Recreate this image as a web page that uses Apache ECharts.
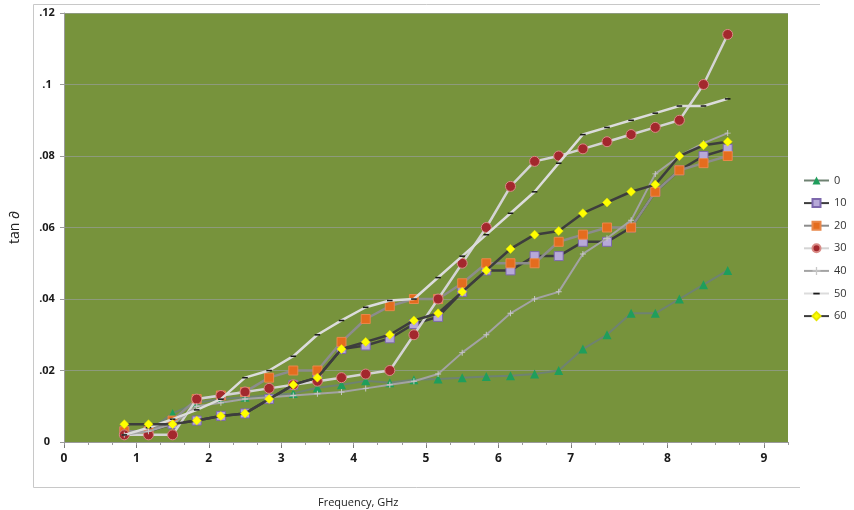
<!DOCTYPE html>
<html>
<head>
<meta charset="utf-8">
<style>
  html, body { margin: 0; padding: 0; background: #ffffff; }
  #chart { width: 854px; height: 510px; }
</style>
<script src="https://cdn.jsdelivr.net/npm/echarts@6/dist/echarts.min.js"></script>
</head>
<body>
<div id="chart"></div>
<script>
// Frequency positions of the measurement points (axis units)
const freq = [0.833, 1.167, 1.5, 1.833, 2.167, 2.5, 2.833, 3.167, 3.5, 3.833,
              4.167, 4.5, 4.833, 5.167, 5.5, 5.833, 6.167, 6.5, 6.833, 7.167,
              7.5, 7.833, 8.167, 8.5, 8.833, 9.167];

// Loss tangent for each sample label
const s0  = [0.003, 0.003, 0.008, 0.011, 0.012, 0.0125, 0.013, 0.0136, 0.0152, 0.016,
             0.0171, 0.0166, 0.0174, 0.0176, 0.018, 0.0183, 0.0185, 0.019, 0.020, 0.026,
             0.030, 0.036, 0.036, 0.040, 0.044, 0.048];
const s10 = [0.003, 0.003, 0.005, 0.006, 0.0073, 0.008, 0.012, 0.016, 0.018, 0.026,
             0.027, 0.029, 0.033, 0.035, 0.042, 0.048, 0.048, 0.052, 0.052, 0.056,
             0.056, 0.060, 0.070, 0.076, 0.080, 0.082];
const s20 = [0.003, 0.003, 0.006, 0.012, 0.013, 0.014, 0.018, 0.020, 0.020, 0.028,
             0.0344, 0.038, 0.040, 0.040, 0.0444, 0.050, 0.050, 0.050, 0.056, 0.058,
             0.060, 0.060, 0.070, 0.076, 0.078, 0.080];
const s30 = [0.002, 0.002, 0.002, 0.012, 0.013, 0.014, 0.015, 0.016, 0.017, 0.018,
             0.019, 0.020, 0.030, 0.040, 0.050, 0.060, 0.0715, 0.0785, 0.080, 0.082,
             0.084, 0.086, 0.088, 0.090, 0.100, 0.114];
const s40 = [0.002, 0.003, 0.005, 0.010, 0.011, 0.012, 0.0125, 0.013, 0.0135, 0.014,
             0.015, 0.016, 0.017, 0.019, 0.025, 0.030, 0.036, 0.040, 0.042, 0.0526,
             0.057, 0.062, 0.075, 0.080, 0.0836, 0.0864];
const s50 = [0.002, 0.004, 0.0064, 0.009, 0.012, 0.018, 0.020, 0.024, 0.030, 0.034,
             0.0377, 0.0396, 0.040, 0.046, 0.052, 0.058, 0.064, 0.070, 0.078, 0.086,
             0.088, 0.090, 0.092, 0.094, 0.094, 0.096];
const s60 = [0.005, 0.005, 0.005, 0.006, 0.0073, 0.008, 0.012, 0.016, 0.018, 0.026,
             0.028, 0.030, 0.034, 0.036, 0.042, 0.048, 0.054, 0.058, 0.059, 0.064,
             0.067, 0.070, 0.072, 0.080, 0.083, 0.084];

const seriesNames = ['0', '10', '20', '30', '40', '50', '60'];

// Frequency axis labels and where they sit on the axis
const xTickLabels = ['0', '1', '2', '3', '4', '5', '6', '7', '8', '9'];
const xTickPos = [0, 1, 2, 3, 4, 5, 6, 7, 25 / 3, 29 / 3];

// Loss-tangent axis labels
const yTickLabels = ['0', '.02', '.04', '.06', '.08', '.1', '.12'];

const pair = (ys) => ys.map((y, i) => [freq[i], y]);

// Marker shapes: a thin plus and a short dash kept inside a square box
const plusPath = 'path://M4.2,0 L5.8,0 L5.8,4.2 L10,4.2 L10,5.8 L5.8,5.8 L5.8,10 L4.2,10 L4.2,5.8 L0,5.8 L0,4.2 L4.2,4.2 Z';
const dashPath = 'path://M0,0 M1,4 L9,4 L9,6.2 L1,6.2 Z M10,10';

const styles = [
  { data: s0,  line: '#6f8272', width: 2,   symbol: 'triangle', size: 9,  fill: '#1f9e5c', border: '#1f9e5c', bw: 0 },
  { data: s10, line: '#3d3d3d', width: 2.5, symbol: 'rect',     size: 9,  fill: '#b7a9d8', border: '#7d68ad', bw: 1 },
  { data: s20, line: '#8c8c8c', width: 2.5, symbol: 'rect',     size: 9,  fill: '#e46c1e', border: '#e9884a', bw: 1 },
  { data: s30, line: '#d4d4d4', width: 2.5, symbol: 'circle',   size: 10, fill: '#a3282d', border: '#d98b86', bw: 1 },
  { data: s40, line: '#a3a3a3', width: 2,   symbol: plusPath,   size: 6,  fill: '#c8c8c8', border: '#c8c8c8', bw: 0 },
  { data: s50, line: '#dcdcdc', width: 2.5, symbol: dashPath,   size: 7,  fill: '#1a1a1a', border: '#1a1a1a', bw: 0 },
  { data: s60, line: '#3d3d3d', width: 2.5, symbol: 'diamond',  size: 9,  fill: '#ffff00', border: '#e6e600', bw: 0.5 }
];

const chart = echarts.init(document.getElementById('chart'), null, { renderer: 'canvas' });

const labelFont = { fontFamily: 'Open Sans', fontWeight: 'bold', fontSize: 11, color: '#1a1a1a' };

chart.setOption({
  animation: false,
  backgroundColor: '#ffffff',
  title: {
    text: 'Frequency, GHz',
    left: 318,
    top: 497,
    padding: 0,
    textStyle: { fontFamily: 'Open Sans', fontSize: 11, fontWeight: 'normal', color: '#222222' }
  },
  legend: {
    orient: 'vertical',
    left: 803,
    top: 175,
    itemWidth: 25,
    itemHeight: 10,
    itemGap: 11.6,
    padding: 0,
    data: seriesNames,
    textStyle: { fontFamily: 'Open Sans', fontSize: 11, color: '#333333', padding: [0, 0, 0, 0] }
  },
  grid: { left: 64, right: 66, top: 13, bottom: 68, show: true, backgroundColor: '#77933c', borderWidth: 0 },
  xAxis: [
    {
      type: 'value',
      min: 0,
      max: 10,
      axisLine: { show: true, lineStyle: { color: '#9a9a9a', width: 1 } },
      axisTick: { show: true, length: 6, customValues: xTickPos, lineStyle: { color: '#7a7a7a' } },
      axisLabel: {
        customValues: xTickPos,
        margin: 11,
        ...labelFont,
        fontSize: 12,
        formatter: (v) => {
          let best = 0;
          xTickPos.forEach((p, i) => { if (Math.abs(p - v) < Math.abs(xTickPos[best] - v)) best = i; });
          return xTickLabels[best];
        }
      },
      splitLine: { show: false }
    },
    {
      type: 'value',
      position: 'bottom',
      min: 0,
      max: 30,
      interval: 1,
      axisLine: { show: false },
      axisTick: { show: true, length: 3, lineStyle: { color: '#9a9a9a' } },
      axisLabel: { show: false },
      splitLine: { show: false }
    }
  ],
  yAxis: {
    type: 'value',
    min: 0,
    max: 0.12,
    interval: 0.02,
    name: 'tan ∂',
    nameLocation: 'middle',
    nameGap: 42,
    nameRotate: 90,
    nameTextStyle: { fontFamily: 'Open Sans', fontSize: 14, color: '#222222' },
    axisLine: { show: true, lineStyle: { color: '#9a9a9a' } },
    axisTick: { show: true, length: 4, lineStyle: { color: '#9a9a9a' } },
    axisLabel: {
      ...labelFont,
      align: 'center',
      margin: 17,
      formatter: (v) => yTickLabels[Math.round(v / 0.02)]
    },
    splitLine: { show: true, lineStyle: { color: '#8d9a7c', width: 1 } }
  },
  graphic: [
    {
      type: 'polyline',
      silent: true,
      shape: { points: [[820, 4.5], [33.5, 4.5], [33.5, 487.5], [800, 487.5]] },
      style: { stroke: '#c8c8c8', lineWidth: 1, fill: null }
    }
  ],
  series: styles.map((s, k) => ({
    name: seriesNames[k],
    type: 'line',
    xAxisIndex: 0,
    data: pair(s.data),
    symbol: s.symbol,
    symbolSize: s.size,
    showAllSymbol: true,
    lineStyle: { color: s.line, width: s.width },
    itemStyle: { color: s.fill, borderColor: s.border, borderWidth: s.bw },
    emphasis: { disabled: true },
    z: 2 + k
  }))
});
</script>
</body>
</html>
